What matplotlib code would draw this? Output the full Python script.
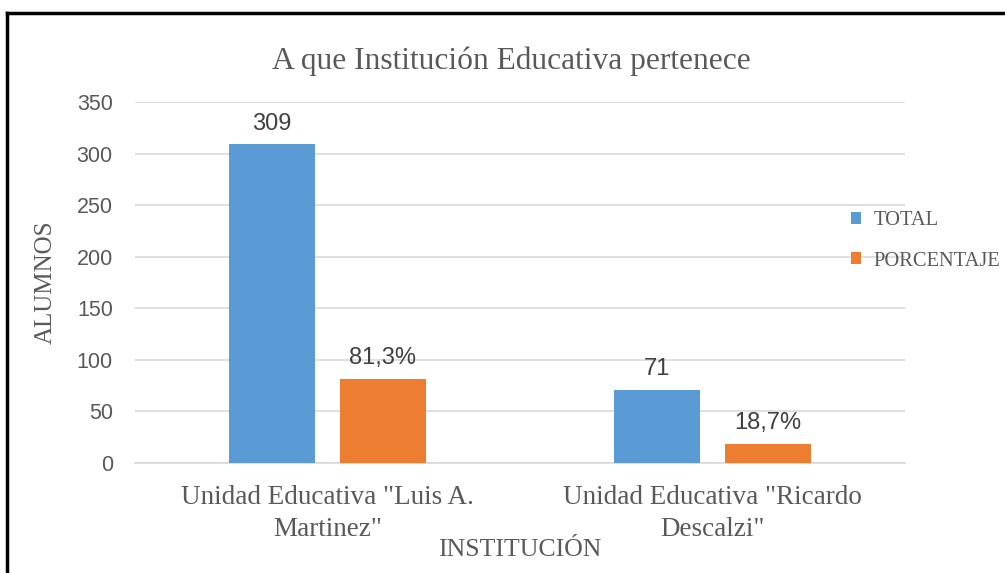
import matplotlib
matplotlib.use("Agg")
import matplotlib.pyplot as plt
from matplotlib.lines import Line2D
import numpy as np

categories = ['Unidad Educativa "Luis A.\nMartinez"', 'Unidad Educativa "Ricardo\nDescalzi"']
total = [309, 71]
porcentaje = [81.3, 18.7]
porcentaje_labels = ["81,3%", "18,7%"]
yticks = [0, 50, 100, 150, 200, 250, 300, 350]

SERIF = ["Liberation Serif", "DejaVu Serif"]
SANS = ["Liberation Sans", "DejaVu Sans"]
GRAY = "#595959"
BLUE = "#5B9BD5"
ORANGE = "#ED7D31"

W, H = 1005, 573
fig = plt.figure(figsize=(W / 100, H / 100), dpi=100)
ax = fig.add_axes([135 / W, 110 / H, 770 / W, 361 / H])

x = np.arange(len(categories))
bw = 0.223
off = 0.144
b1 = ax.bar(x - off, total, bw, color=BLUE, label="TOTAL", zorder=3)
b2 = ax.bar(x + off, porcentaje, bw, color=ORANGE, label="PORCENTAJE", zorder=3)

for rect, v in zip(b1, total):
    ax.annotate(str(v), (rect.get_x() + rect.get_width() / 2, rect.get_height()),
                xytext=(0, 7), textcoords="offset points", ha="center", va="bottom",
                fontsize=17, color="#404040", family=SANS)
for rect, t in zip(b2, porcentaje_labels):
    ax.annotate(t, (rect.get_x() + rect.get_width() / 2, rect.get_height()),
                xytext=(0, 7), textcoords="offset points", ha="center", va="bottom",
                fontsize=17, color="#404040", family=SANS)

ax.set_xlim(-0.5, 1.5)
ax.set_ylim(0, 350)
ax.set_yticks(yticks)
ax.set_yticklabels([str(t) for t in yticks], fontsize=15.5, color=GRAY, family=SANS)
ax.set_xticks(x)
ax.set_xticklabels(categories, fontsize=19.5, color=GRAY, family=SERIF, linespacing=1.35)
ax.tick_params(axis="both", length=0)
ax.tick_params(axis="y", pad=16)
ax.tick_params(axis="x", pad=16)
ax.grid(axis="y", color="#d9d9d9", linewidth=1.2, zorder=0)
for s in ["top", "right", "left"]:
    ax.spines[s].set_visible(False)
ax.spines["bottom"].set_color("#d9d9d9")
ax.spines["bottom"].set_linewidth(1.2)

ax.set_ylabel("ALUMNOS", fontsize=18, color=GRAY, family=SERIF, labelpad=14)
ax.set_xlabel("INSTITUCIÓN", fontsize=18.5, color=GRAY, family=SERIF, labelpad=-2)
fig.text(511 / W, 1 - 61 / H, "A que Institución Educativa pertenece", ha="center", va="center",
         fontsize=22.7, color=GRAY, family=SERIF)

leg = fig.legend(handles=[b1, b2], loc="upper left", bbox_to_anchor=(851 / W, 1 - 211 / H),
                 frameon=False, handlelength=0.5, handleheight=0.5,
                 handletextpad=0.6, labelspacing=1.05, borderpad=0, borderaxespad=0,
                 prop={"family": SERIF, "size": 14.8})
for t in leg.get_texts():
    t.set_color(GRAY)

# outer frame
fig.add_artist(Line2D([7 / W, 7 / W], [0, 1 - 13 / H], transform=fig.transFigure,
                      color="black", linewidth=2.5))
fig.add_artist(Line2D([7 / W, 1.0], [1 - 13 / H, 1 - 13 / H], transform=fig.transFigure,
                      color="black", linewidth=2.5))

fig.savefig("out.png", dpi=100)
